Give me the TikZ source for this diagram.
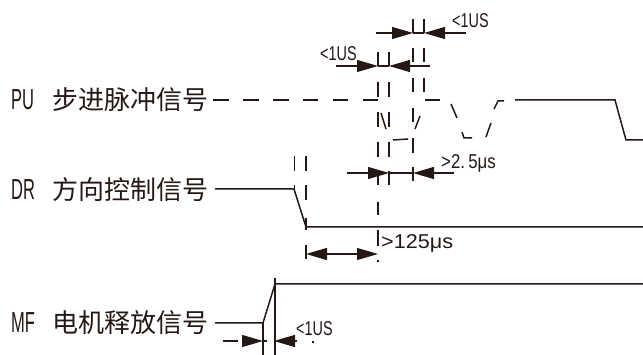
\documentclass[tikz,border=0pt]{standalone}
\usepackage{fontspec}
\setmainfont[FakeStretch=0.57]{Liberation Sans}
\newfontfamily\dimfont[FakeStretch=0.72]{Liberation Sans}
\newfontfamily\setupfont[FakeStretch=0.84]{Liberation Sans}
\newfontfamily\holdfont[FakeStretch=1.08]{Liberation Sans}
\newfontfamily\cjk{Noto Sans CJK SC}
\usetikzlibrary{arrows.meta}
\definecolor{inkblk}{rgb}{0.14,0.09,0.08}
\tikzset{
  sig/.style={line width=1.5pt,color=inkblk},
  tick/.style={line width=1.5pt,color=inkblk},
  dim/.style={line width=1.1pt,color=inkblk},
  tip/.style={-{Triangle[length=21pt,width=12pt]}},
  siglabel/.style={anchor=base west,inner sep=0pt,text=inkblk,font=\fontsize{29}{29}\selectfont},
  dimlabel/.style={anchor=base west,inner sep=0pt,text=inkblk,font=\dimfont\fontsize{20}{20}\selectfont}
}
\newcommand{\siglab}[2]{\makebox[41pt][l]{#1}{\cjk\fontsize{26}{26}\selectfont #2}}

\begin{document}
\begin{tikzpicture}[x=1pt,y=-1pt]
  \useasboundingbox (0,0) rectangle (643,355);
  \node[siglabel] (pulabel) at (11,110) {\siglab{PU}{步进脉冲信号}};
  \node[siglabel] (drlabel) at (11,200) {\siglab{DR}{方向控制信号}};
  \node[siglabel] (mflabel) at (11,333) {\siglab{MF}{电机释放信号}};
  \node[dimlabel] (topus) at (452,28) {<1US};
  \node[dimlabel] (midus) at (320,61) {<1US};
  \node[dimlabel,font=\setupfont\fontsize{20}{20}\selectfont] (setup) at (441,169) {>2.\,5μs};
  \node[dimlabel,font=\holdfont\fontsize{20}{20}\selectfont] (hold) at (381,249) {>125μs};
  \node[dimlabel] (mfus) at (296,336) {<1US};
  \draw[sig] (213,100) -- (229,100);
  \draw[sig] (243,100) -- (259,100);
  \draw[sig] (273,100) -- (289,100);
  \draw[sig] (303,100) -- (318,100);
  \draw[sig] (333,100) -- (348,100);
  \draw[sig] (363,100) -- (378,100);
  \draw[sig] (381,113) -- (386,129);
  \draw[sig] (393,140) -- (408,139);
  \draw[sig] (415,129) -- (420,116);
  \draw[sig] (425,100) -- (440,100);
  \draw[sig] (451,104) -- (457,118);
  \draw[sig] (462,132) -- (464,138) -- (472,138);
  \draw[sig] (486,137) -- (491,123);
  \draw[sig] (494,109) -- (498,101) -- (504,101);
  \draw[sig] (515,100) -- (615,100) -- (626,140) -- (643,140);
  \draw[sig] (215,189) -- (294,189) -- (306,227) -- (643,227);
  \draw[sig] (215,323) -- (263,323) -- (275,284) -- (643,284);
  \draw[tick] (378,52) -- (378,66);
  \draw[tick] (378,82) -- (378,97);
  \draw[tick] (378,112) -- (378,127);
  \draw[tick] (378,142) -- (378,157);
  \draw[tick] (378,173) -- (378,185);
  \draw[tick] (378,202) -- (378,215);
  \draw[tick] (378,230) -- (378,246);
  \draw[tick] (378,260) -- (378,262);
  \draw[tick] (389,52) -- (389,66);
  \draw[tick] (389,82) -- (389,97);
  \draw[tick] (389,112) -- (389,127);
  \draw[tick] (389,142) -- (389,157);
  \draw[tick] (389,171) -- (389,185);
  \draw[tick] (413,19) -- (413,33);
  \draw[tick] (413,48) -- (413,62);
  \draw[tick] (413,78) -- (413,92);
  \draw[tick] (413,108) -- (413,122);
  \draw[tick] (413,138) -- (413,153);
  \draw[tick] (413,167) -- (413,181);
  \draw[tick] (424,19) -- (424,33);
  \draw[tick] (424,48) -- (424,62);
  \draw[tick] (424,78) -- (424,92);
  \draw[tick] (294.5,156) -- (294.5,171);
  \draw[tick] (294.5,185) -- (294.5,189);
  \draw[tick] (306,156) -- (306,171);
  \draw[tick] (306,185) -- (306,200);
  \draw[tick] (306,218) -- (306,230);
  \draw[tick] (306,245) -- (306,259);
  \draw[tick] (263,323) -- (263,355);
  \draw[tick] (275,278) -- (275,355);
  \draw[dim,tip] (376,33) -- (413,33);
  \draw[dim,tip] (466,33) -- (424,33);
  \draw[dim] (413,33) -- (424,33);
  \draw[dim,tip] (336,66) -- (378,66);
  \draw[dim,tip] (430,66) -- (389,66);
  \draw[dim] (378,66) -- (389,66);
  \draw[dim,tip] (347,173) -- (389,173);
  \draw[dim,tip] (454,173) -- (413,173);
  \draw[dim] (389,173) -- (413,173);
  \draw[dim,tip] (340,254) -- (378,254);
  \draw[dim,tip] (344,254) -- (306,254);
  \draw[dim] (223,341) -- (238,341);
  \draw[dim,tip] (242,341) -- (263,341);
  \draw[dim] (263,341) -- (267,341);
  \draw[dim,tip] (297,341) -- (274,341);
  \draw[dim] (312,342) -- (314,342);
\end{tikzpicture}
\end{document}
